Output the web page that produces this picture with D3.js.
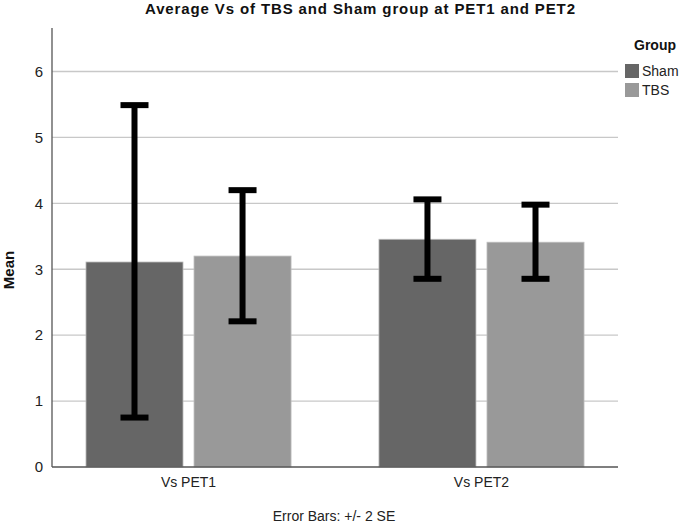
<!DOCTYPE html>
<html><head><meta charset="utf-8">
<script src="https://cdn.jsdelivr.net/npm/d3@7"></script>
<style>body{margin:0;background:#fff}svg{display:block}text{font-family:"Liberation Sans",Arial,sans-serif}</style>
</head><body>
<svg id="c" width="685" height="524"></svg>
<script>
const categories = ["Vs PET1", "Vs PET2"];
const groups = ["Sham", "TBS"];
const means = { Sham: [3.11, 3.455], TBS: [3.20, 3.41] };
const errLow = { Sham: [0.75, 2.855], TBS: [2.21, 2.855] };
const errHigh = { Sham: [5.49, 4.06], TBS: [4.20, 3.98] };
const yTicks = [0, 1, 2, 3, 4, 5, 6];
const colors = { Sham: "#666666", TBS: "#999999" };

const svg = d3.select("#c");
const mLeft = 52, mRight = 618, mTop = 28, mBottom = 467;
const y = d3.scaleLinear().domain([0, 6.66]).range([mBottom, mTop]);
const x0 = d3.scaleBand().domain(categories).range([mLeft, mRight]).paddingInner(0.3).paddingOuter(0.116);
const x1 = d3.scaleBand().domain(groups).range([0, x0.bandwidth()]).paddingInner(0.102);

// gridlines
svg.append("g").selectAll("line").data(yTicks.filter(d => d > 0)).join("line")
  .attr("x1", mLeft).attr("x2", mRight).attr("y1", d => y(d)).attr("y2", d => y(d))
  .attr("stroke", "#c8c8c8").attr("stroke-width", 1.3);

// bars
const data = [];
categories.forEach((c, i) => groups.forEach(g => data.push({ c, g, v: means[g][i], lo: errLow[g][i], hi: errHigh[g][i] })));
svg.append("g").selectAll("rect").data(data).join("rect")
  .attr("x", d => x0(d.c) + x1(d.g)).attr("width", x1.bandwidth())
  .attr("y", d => y(d.v)).attr("height", d => y(0) - y(d.v))
  .attr("fill", d => colors[d.g]).attr("stroke", "#bdbdbd").attr("stroke-width", 0.8);

// error bars
const eb = svg.append("g").selectAll("g").data(data).join("g");
const cx = d => x0(d.c) + x1(d.g) + x1.bandwidth() / 2;
eb.append("line").attr("x1", cx).attr("x2", cx).attr("y1", d => y(d.lo)).attr("y2", d => y(d.hi))
  .attr("stroke", "#000").attr("stroke-width", 6);
["lo", "hi"].forEach(k => eb.append("line")
  .attr("x1", d => cx(d) - 14).attr("x2", d => cx(d) + 14)
  .attr("y1", d => y(d[k])).attr("y2", d => y(d[k]))
  .attr("stroke", "#000").attr("stroke-width", 6));

// axes
const yAxis = svg.append("g").attr("transform", `translate(${mLeft},0)`)
  .call(d3.axisLeft(y).tickValues(yTicks).tickFormat(d3.format("d")).tickSize(0).tickPadding(9));
yAxis.select(".domain").remove();
yAxis.selectAll("text").attr("font-size", 15).attr("fill", "#222");
svg.append("line").attr("x1", mLeft).attr("x2", mLeft).attr("y1", mTop).attr("y2", mBottom)
  .attr("stroke", "#555").attr("stroke-width", 1.3);

const xAxis = svg.append("g").attr("transform", `translate(0,${mBottom})`)
  .call(d3.axisBottom(x0).tickSize(0).tickPadding(10));
xAxis.select(".domain").remove();
xAxis.selectAll("text").attr("font-size", 14).attr("fill", "#222");
svg.append("line").attr("x1", mLeft).attr("x2", mRight).attr("y1", mBottom).attr("y2", mBottom)
  .attr("stroke", "#555").attr("stroke-width", 1.3);

// title and labels
svg.append("text").attr("x", 360).attr("y", 14).attr("text-anchor", "middle")
  .attr("font-size", 15).attr("font-weight", "bold").attr("fill", "#111")
  .attr("textLength", 430).attr("lengthAdjust", "spacing")
  .text("Average Vs of TBS and Sham group at PET1 and PET2");
svg.append("text").attr("transform", "translate(14,270) rotate(-90)").attr("text-anchor", "middle")
  .attr("font-size", 15).attr("font-weight", "bold").attr("fill", "#111").text("Mean");
svg.append("text").attr("x", 334).attr("y", 521).attr("text-anchor", "middle")
  .attr("font-size", 14).attr("fill", "#222").text("Error Bars: +/- 2 SE");

// legend
svg.append("text").attr("x", 655).attr("y", 50).attr("text-anchor", "middle")
  .attr("font-size", 14).attr("font-weight", "bold").attr("fill", "#111").text("Group");
const lg = svg.append("g").selectAll("g").data(groups).join("g")
  .attr("transform", (d, i) => `translate(625,${64 + i * 19})`);
lg.append("rect").attr("width", 14).attr("height", 14).attr("fill", d => colors[d]);
lg.append("text").attr("x", 17).attr("y", 12).attr("font-size", 14).attr("fill", "#222").text(d => d);
</script>
</body></html>
